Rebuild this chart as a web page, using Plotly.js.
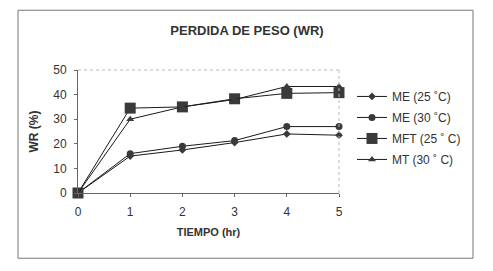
<!DOCTYPE html>
<html><head><meta charset="utf-8">
<script src="https://cdn.plot.ly/plotly-3.0.1.min.js"></script>
<style>html,body{margin:0;padding:0;background:#fff;}#chart{width:493px;height:271px;}</style>
</head><body><div id="chart"></div>
<script>
var tiempo = [0, 1, 2, 3, 4, 5];
var me25 = [0, 15, 17.5, 20.5, 24, 23.5];
var me30 = [0, 16, 19, 21.3, 27, 27];
var mft25 = [0, 34.5, 35, 38.3, 40.5, 40.8];
var mt30 = [0, 30, 35, 38, 43.3, 43.3];
var names = ['ME (25 ˚C)', 'ME (30 ˚C)', 'MFT (25 ˚ C)', 'MT (30 ˚ C)'];
var yTicks = [0, 10, 20, 30, 40, 50];

var lineStyle = {color: '#1a1a1a', width: 1};
var mk = '#3a3a3a';
var traces = [
  {x: tiempo, y: me25, name: names[0], mode: 'lines+markers', line: lineStyle,
   marker: {symbol: 'diamond', size: 6, color: mk}},
  {x: tiempo, y: me30, name: names[1], mode: 'lines+markers', line: lineStyle,
   marker: {symbol: 'circle', size: 7, color: mk}},
  {x: tiempo, y: mft25, name: names[2], mode: 'lines+markers', line: lineStyle,
   marker: {symbol: 'square', size: 11, color: mk}},
  {x: tiempo, y: mt30, name: names[3], mode: 'lines+markers', line: lineStyle,
   marker: {symbol: 'triangle-up', size: 7, color: mk}}
];
traces.forEach(function(t, i){ t.cliponaxis = false; t.legendgroup = 'g' + i; });

var L = 78, R = 339, T = 70, B = 193.5;
function px(x){ return (x - L) / (R - L); }
function py(y){ return (B - y) / (B - T); }

var layout = {
  width: 493, height: 271,
  margin: {l: L, r: 493 - R, t: T, b: 271 - B, pad: 0},
  paper_bgcolor: '#fff', plot_bgcolor: '#fff',
  font: {family: 'Liberation Sans, Arial, sans-serif', color: '#333', size: 12},
  title: {text: '<b>PERDIDA DE PESO (WR)</b>', font: {size: 13, color: '#333'},
          x: px(247), xanchor: 'center', xref: 'paper', y: 1 - 30/271, yanchor: 'middle'},
  xaxis: {range: [0, 5], tickvals: tiempo, ticks: 'outside', ticklen: 3, tickcolor: '#666',
          showgrid: false, zeroline: false, showline: true, linecolor: '#666', linewidth: 1,
          tickfont: {size: 12, color: '#333'}, ticklabelstandoff: 5,
          title: {text: '<b>TIEMPO (hr)</b>', font: {size: 11, color: '#333'}, standoff: 9}},
  yaxis: {range: [0, 50], tickvals: yTicks, ticks: 'outside', ticklen: 3, tickcolor: '#666',
          showgrid: false, zeroline: false, showline: true, linecolor: '#666', linewidth: 1,
          tickfont: {size: 12, color: '#333'}, ticklabelstandoff: 5,
          title: {text: '<b>WR (%)</b>', font: {size: 12, color: '#333'}, standoff: 12}},
  showlegend: true,
  legend: {x: px(352), y: py(82), xanchor: 'left', yanchor: 'top',
           font: {size: 12, color: '#333'}, bgcolor: 'rgba(0,0,0,0)', itemwidth: 30,
           tracegroupgap: 2},
  shapes: [
    {type: 'rect', xref: 'paper', yref: 'paper', x0: px(18), x1: px(473), y0: py(259), y1: py(10),
     line: {color: '#777', width: 1}, layer: 'below'},
    {type: 'line', xref: 'paper', yref: 'paper', x0: 0, x1: 1, y0: 1, y1: 1,
     line: {color: '#bbb', width: 1, dash: 'dot'}},
    {type: 'line', xref: 'paper', yref: 'paper', x0: 1, x1: 1, y0: 0, y1: 1,
     line: {color: '#bbb', width: 1, dash: 'dot'}}
  ]
};
Plotly.newPlot('chart', traces, layout, {staticPlot: true, displayModeBar: false});
</script></body></html>
